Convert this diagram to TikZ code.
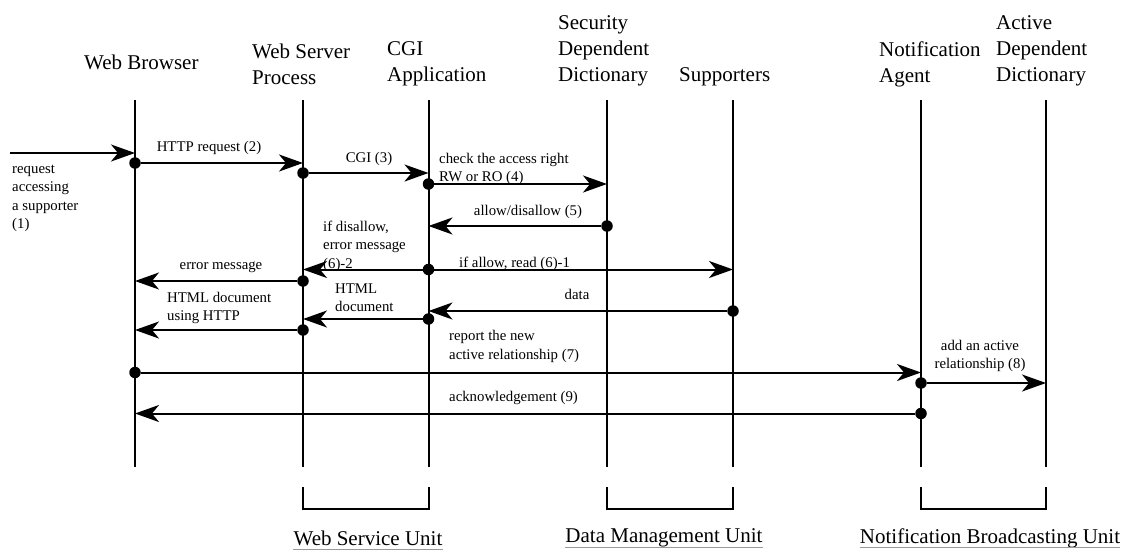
\documentclass[tikz,border=0pt]{standalone}
\usepackage{fontspec}
\setmainfont{Liberation Serif}
\usetikzlibrary{arrows.meta}
\begin{document}
\begin{tikzpicture}[x=1pt,y=-1pt,
  lifeline/.style={line width=2pt},
  msg/.style={line width=2pt,-{Stealth[length=24pt,width=17pt,inset=7pt]}},
  dotnode/.style={circle,fill=black,inner sep=0pt,minimum size=11.5pt},
  head/.style={font=\fontsize{21}{26}\selectfont,align=left,inner sep=0pt,anchor=west},
  lbl/.style={font=\fontsize{14.8}{18.5}\selectfont,inner sep=0pt},
  unit/.style={font=\fontsize{21}{26}\selectfont,inner sep=0pt},
  bracket/.style={line width=2pt},
  uline/.style={line width=0.8pt,black!40}]
\useasboundingbox (0,0) rectangle (1126,552);

% headers
\node[head] (hwb) at (84,62) {Web Browser};
\node[head] (hws) at (252,64) {Web Server\\Process};
\node[head] (hcgi) at (387,64) {CGI\\Application};
\node[head] (hsd) at (558,51) {Security\\Dependent\\Dictionary};
\node[head] (hsup) at (679,77) {Supporters};
\node[head] (hna) at (879,64) {Notification\\Agent};
\node[head] (had) at (996,51) {Active\\Dependent\\Dictionary};

% lifelines
\coordinate (wbT) at (135,100);   \coordinate (wbB) at (135,467);
\coordinate (wsT) at (303,100);   \coordinate (wsB) at (303,467);
\coordinate (cgT) at (428.5,100); \coordinate (cgB) at (428.5,467);
\coordinate (sdT) at (607,100);   \coordinate (sdB) at (607,467);
\coordinate (suT) at (733,100);   \coordinate (suB) at (733,467);
\coordinate (naT) at (921,100);   \coordinate (naB) at (921,467);
\coordinate (adT) at (1046,100);  \coordinate (adB) at (1046,467);
\draw[lifeline] (wbT) -- (wbB);
\draw[lifeline] (wsT) -- (wsB);
\draw[lifeline] (cgT) -- (cgB);
\draw[lifeline] (sdT) -- (sdB);
\draw[lifeline] (suT) -- (suB);
\draw[lifeline] (naT) -- (naB);
\draw[lifeline] (adT) -- (adB);

% (1) incoming request
\coordinate (inS) at (10,153);
\coordinate (inE) at (135,153);
\draw[msg] (inS) -- (inE);
\node[lbl,align=left,anchor=west] (l1) at (12,198.5) {request\\accessing\\a supporter\\(1)};

% (2) HTTP request
\node[dotnode] (d2) at (135,163) {};
\coordinate (e2) at (303,163);
\draw[msg] (d2) -- (e2);
\node[lbl] (l2) at (209,148) {HTTP request (2)};

% (3) CGI
\node[dotnode] (d3) at (303,173) {};
\coordinate (e3) at (428.5,173);
\draw[msg] (d3) -- (e3);
\node[lbl] (l3) at (369,159) {CGI (3)};

% (4) check access right
\node[dotnode] (d4) at (428.5,184) {};
\coordinate (e4) at (607,184);
\draw[msg] (d4) -- (e4);
\node[lbl,align=left,anchor=west] (l4) at (439,169) {check the access right\\RW or RO (4)};

% (5) allow/disallow
\node[dotnode] (d5) at (607,226) {};
\coordinate (e5) at (428.5,226);
\draw[msg] (d5) -- (e5);
\node[lbl] (l5) at (528,212) {allow/disallow (5)};

% (6) allow / disallow
\node[dotnode] (d6) at (428.5,269.5) {};
\coordinate (e61) at (733,269.5);
\coordinate (e62) at (303,269.5);
\draw[msg] (d6) -- (e61);
\draw[msg] (d6) -- (e62);
\node[lbl,anchor=west] (l61) at (459,264) {if allow, read (6)-1};
\node[lbl,align=left,anchor=west] (l62) at (323,246) {if disallow,\\error message\\(6)-2};

% error message
\node[dotnode] (d7) at (303,281) {};
\coordinate (e7) at (135,281);
\draw[msg] (d7) -- (e7);
\node[lbl] (l7) at (221,267) {error message};

% data
\node[dotnode] (d8) at (733,311) {};
\coordinate (e8) at (428.5,311);
\draw[msg] (d8) -- (e8);
\node[lbl] (l8) at (577,294) {data};

% HTML document
\node[dotnode] (d9) at (428.5,319) {};
\coordinate (e9) at (303,319);
\draw[msg] (d9) -- (e9);
\node[lbl,align=left,anchor=west] (l9) at (335,297.5) {HTML\\document};

% HTML document using HTTP
\node[dotnode] (d10) at (303,330) {};
\coordinate (e10) at (135,330);
\draw[msg] (d10) -- (e10);
\node[lbl,align=left,anchor=west] (l10) at (167,308) {HTML document\\using HTTP};

% (7) report
\node[dotnode] (d11) at (135,372.5) {};
\coordinate (e11) at (921,372.5);
\draw[msg] (d11) -- (e11);
\node[lbl,align=left,anchor=west] (l11) at (449,346.5) {report the new\\active relationship (7)};

% (8) add
\node[dotnode] (d12) at (921,383) {};
\coordinate (e12) at (1046,383);
\draw[msg] (d12) -- (e12);
\node[lbl,align=center] (l12) at (980,356) {add an active\\relationship (8)};

% (9) acknowledgement
\node[dotnode] (d13) at (921,413.5) {};
\coordinate (e13) at (135,413.5);
\draw[msg] (d13) -- (e13);
\node[lbl,anchor=west] (l13) at (449,398) {acknowledgement (9)};

% unit brackets
\draw[bracket] (303,487) -- (303,509) -- (428.5,509) -- (428.5,487);
\draw[bracket] (607,487) -- (607,509) -- (733,509) -- (733,487);
\draw[bracket] (921,487) -- (921,509) -- (1046,509) -- (1046,487);

\node[unit] (u1) at (368,538) {Web Service Unit};
\node[unit] (u2) at (664,538) {Data Management Unit};
\node[unit] (u3) at (990,538) {Notification Broadcasting Unit};
\draw[uline] ([yshift=-4.5pt]u1.base west) -- ([yshift=-4.5pt]u1.base east);
\draw[uline] ([yshift=-4.5pt]u2.base west) -- ([yshift=-4.5pt]u2.base east);
\draw[uline] ([yshift=-4.5pt]u3.base west) -- ([yshift=-4.5pt]u3.base east);
\end{tikzpicture}
\end{document}
